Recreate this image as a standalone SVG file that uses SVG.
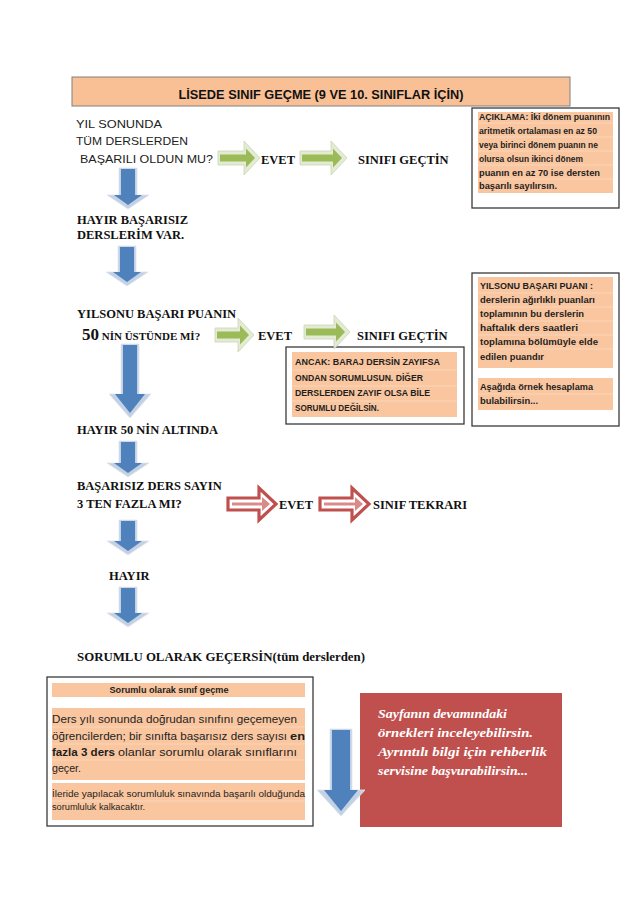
<svg xmlns="http://www.w3.org/2000/svg" width="640" height="905" viewBox="0 0 640 905">
<style>
.bg{fill:#ffffff}
.peach{fill:#F9C6A0}
.frame{fill:#ffffff;stroke:#3a3a3a;stroke-width:1.3}
.sep{stroke:#fbd9c0;stroke-width:0.8}
.q{font-family:"Liberation Serif","Times New Roman",serif;font-weight:bold;font-size:12.5px;fill:#111}
.hw{font-family:"Liberation Sans",Arial,sans-serif;font-size:10.5px;fill:#222}
.b9{font-family:"Liberation Sans",Arial,sans-serif;font-weight:bold;font-size:9px;fill:#1e1e1e}
.r11{font-family:"Liberation Sans",Arial,sans-serif;font-size:11.5px;fill:#1e1e1e}
.b11{font-family:"Liberation Sans",Arial,sans-serif;font-size:11.5px;font-weight:bold;fill:#1e1e1e}
.r8{font-family:"Liberation Sans",Arial,sans-serif;font-size:8.5px;fill:#1e1e1e}
.title{font-family:"Liberation Sans",Arial,sans-serif;font-weight:bold;font-size:13.5px;fill:#111}
.wi{font-family:"Liberation Serif","Times New Roman",serif;font-weight:bold;font-style:italic;font-size:13.5px;fill:#ffffff}
.bpale{fill:#c3d1e4;stroke:#dfe6ef;stroke-width:0.8}
.blue{fill:#4F81BD}
.gpale{fill:#e4ebd5;stroke:#c9d5b3;stroke-width:0.8}
.green{fill:#9BBB59}
.rout{fill:#ffffff;stroke:#C0504D;stroke-width:3.2;stroke-linejoin:miter}
.rin{fill:#d98b8a}
</style>
<rect class="bg" x="0" y="0" width="640" height="905"/>

<g id="title">
<rect x="72" y="77" width="498" height="29" fill="#F9C096" stroke="#808080" stroke-width="1"/>
<text class="title" x="321" y="99" text-anchor="middle" textLength="285" lengthAdjust="spacingAndGlyphs">LİSEDE SINIF GEÇME (9 VE 10. SINIFLAR İÇİN)</text>
</g>

<g id="q1">
<text class="hw" x="76" y="128" textLength="86" lengthAdjust="spacingAndGlyphs">YIL SONUNDA</text>
<text class="hw" x="76" y="145" textLength="112" lengthAdjust="spacingAndGlyphs">TÜM DERSLERDEN</text>
<text class="hw" x="80" y="163" textLength="133" lengthAdjust="spacingAndGlyphs">BAŞARILI OLDUN MU?</text>
</g>
<g id="evet1"><text class="q" x="261" y="164">EVET</text></g>
<g id="gectin1"><text class="q" x="358" y="164">SINIFI GEÇTİN</text></g>

<g id="aciklama">
<rect class="frame" x="472" y="108" width="147" height="100"/>
<rect class="peach" x="478" y="112" width="135" height="81"/>
<line class="sep" x1="478" y1="123" x2="613" y2="123"/>
<line class="sep" x1="478" y1="137" x2="613" y2="137"/>
<line class="sep" x1="478" y1="151" x2="613" y2="151"/>
<line class="sep" x1="478" y1="165" x2="613" y2="165"/>
<line class="sep" x1="478" y1="179" x2="613" y2="179"/>
<text class="b9" x="479" y="120" textLength="131" lengthAdjust="spacingAndGlyphs">AÇIKLAMA: İki dönem puanının</text>
<text class="b9" x="479" y="134" textLength="118" lengthAdjust="spacingAndGlyphs">aritmetik ortalaması en az 50</text>
<text class="b9" x="479" y="148" textLength="119" lengthAdjust="spacingAndGlyphs">veya birinci dönem puanın ne</text>
<text class="b9" x="479" y="162" textLength="104" lengthAdjust="spacingAndGlyphs">olursa olsun ikinci dönem</text>
<text class="b9" x="479" y="176" textLength="121" lengthAdjust="spacingAndGlyphs">puanın en az 70 ise dersten</text>
<text class="b9" x="479" y="189" textLength="78" lengthAdjust="spacingAndGlyphs">başarılı sayılırsın.</text>
</g>

<g id="hayir1">
<text class="q" x="77" y="224">HAYIR BAŞARISIZ</text>
<text class="q" x="77" y="239">DERSLERİM VAR.</text>
</g>

<g id="q2">
<text class="q" x="77" y="318">YILSONU BAŞARI PUANIN</text>
<text class="q" x="82" y="340"><tspan font-size="17">50</tspan><tspan font-size="11"> NİN ÜSTÜNDE Mİ?</tspan></text>
</g>
<g id="evet2"><text class="q" x="258" y="340">EVET</text></g>
<g id="gectin2"><text class="q" x="357" y="340">SINIFI GEÇTİN</text></g>

<g id="ancak">
<rect class="frame" x="286" y="347" width="178" height="77"/>
<rect class="peach" x="292" y="352" width="165" height="65"/>
<line class="sep" x1="292" y1="370" x2="457" y2="370"/>
<line class="sep" x1="292" y1="386" x2="457" y2="386"/>
<line class="sep" x1="292" y1="401" x2="457" y2="401"/>
<text class="b9" x="295" y="365" textLength="145" lengthAdjust="spacingAndGlyphs">ANCAK: BARAJ DERSİN  ZAYIFSA</text>
<text class="b9" x="295" y="381" textLength="128" lengthAdjust="spacingAndGlyphs">ONDAN SORUMLUSUN. DİĞER</text>
<text class="b9" x="295" y="396" textLength="135" lengthAdjust="spacingAndGlyphs">DERSLERDEN ZAYIF OLSA BİLE</text>
<text class="b9" x="295" y="411" textLength="84" lengthAdjust="spacingAndGlyphs">SORUMLU DEĞİLSİN.</text>
</g>

<g id="yilsonu">
<rect class="frame" x="472" y="273" width="147" height="153"/>
<rect class="peach" x="478" y="277" width="135" height="91"/>
<line class="sep" x1="478" y1="293" x2="613" y2="293"/>
<line class="sep" x1="478" y1="307" x2="613" y2="307"/>
<line class="sep" x1="478" y1="321" x2="613" y2="321"/>
<line class="sep" x1="478" y1="335" x2="613" y2="335"/>
<line class="sep" x1="478" y1="349" x2="613" y2="349"/>
<text class="b9" x="480" y="289" font-size="9.5" textLength="113" lengthAdjust="spacingAndGlyphs">YILSONU BAŞARI PUANI :</text>
<text class="b9" x="480" y="303" font-size="9.5" textLength="115" lengthAdjust="spacingAndGlyphs">derslerin ağırlıklı puanları</text>
<text class="b9" x="480" y="317" font-size="9.5" textLength="104" lengthAdjust="spacingAndGlyphs">toplamının bu derslerin</text>
<text class="b9" x="480" y="331" font-size="9.5" textLength="98" lengthAdjust="spacingAndGlyphs">haftalık ders saatleri</text>
<text class="b9" x="480" y="345" font-size="9.5" textLength="118" lengthAdjust="spacingAndGlyphs">toplamına bölümüyle elde</text>
<text class="b9" x="480" y="360" font-size="9.5" textLength="64" lengthAdjust="spacingAndGlyphs">edilen puandır</text>
<rect class="peach" x="478" y="378" width="135" height="32"/>
<line class="sep" x1="478" y1="394" x2="613" y2="394"/>
<text class="b9" x="480" y="390" font-size="9.5" textLength="113" lengthAdjust="spacingAndGlyphs">Aşağıda örnek hesaplama</text>
<text class="b9" x="480" y="404" font-size="9.5" textLength="58" lengthAdjust="spacingAndGlyphs">bulabilirsin...</text>
</g>

<g id="hayir2"><text class="q" x="77" y="434">HAYIR 50 NİN ALTINDA</text></g>

<g id="q3">
<text class="q" x="77" y="490">BAŞARISIZ DERS SAYIN</text>
<text class="q" x="77" y="508">3 TEN FAZLA MI?</text>
</g>
<g id="evet3"><text class="q" x="279" y="509">EVET</text></g>
<g id="tekrar"><text class="q" x="373" y="509">SINIF TEKRARI</text></g>

<g id="hayir3"><text class="q" x="109" y="580">HAYIR</text></g>

<g id="sorumlu"><text class="q" x="77" y="661" font-size="12.8" textLength="288" lengthAdjust="spacingAndGlyphs">SORUMLU OLARAK GEÇERSİN(tüm derslerden)</text></g>

<g id="sorumlu-box">
<rect class="frame" x="47" y="677" width="266" height="149"/>
<rect class="peach" x="52" y="683" width="253" height="14"/>
<text class="b9" x="169" y="693" text-anchor="middle" font-size="8.5" textLength="119" lengthAdjust="spacingAndGlyphs">Sorumlu olarak sınıf geçme</text>
<rect class="peach" x="52" y="708" width="253" height="72"/>
<line class="sep" x1="52" y1="727" x2="305" y2="727"/>
<line class="sep" x1="52" y1="744" x2="305" y2="744"/>
<line class="sep" x1="52" y1="760" x2="305" y2="760"/>
<text class="r11" x="52" y="723" textLength="245" lengthAdjust="spacingAndGlyphs">Ders yılı sonunda doğrudan sınıfını geçemeyen</text>
<text class="r11" x="52" y="740" textLength="235" lengthAdjust="spacingAndGlyphs">öğrencilerden; bir sınıfta başarısız ders sayısı</text>
<text class="b11" x="290" y="740" textLength="15" lengthAdjust="spacingAndGlyphs">en</text>
<text class="b11" x="52" y="756" textLength="63" lengthAdjust="spacingAndGlyphs">fazla 3 ders</text>
<text class="r11" x="118" y="756" textLength="179" lengthAdjust="spacingAndGlyphs">olanlar sorumlu olarak sınıflarını</text>
<text class="r11" x="52" y="772" textLength="29" lengthAdjust="spacingAndGlyphs">geçer.</text>
<rect class="peach" x="52" y="783" width="253" height="37"/>
<line class="sep" x1="52" y1="801" x2="305" y2="801"/>
<text class="r8" x="52" y="797" textLength="253" lengthAdjust="spacingAndGlyphs">İleride yapılacak sorumluluk sınavında başarılı olduğunda</text>
<text class="r8" x="52" y="810" textLength="93" lengthAdjust="spacingAndGlyphs">sorumluluk kalkacaktır.</text>
</g>

<g id="rehberlik">
<rect x="360" y="693" width="202" height="134" fill="#C0504D"/>
<text class="wi" x="378" y="718" textLength="129" lengthAdjust="spacingAndGlyphs">Sayfanın devamındaki</text>
<text class="wi" x="378" y="737" textLength="155" lengthAdjust="spacingAndGlyphs">örnekleri inceleyebilirsin.</text>
<text class="wi" x="378" y="756" textLength="169" lengthAdjust="spacingAndGlyphs">Ayrıntılı bilgi için rehberlik</text>
<text class="wi" x="378" y="775" textLength="150" lengthAdjust="spacingAndGlyphs">servisine başvurabilirsin...</text>
</g>

<g id="connectors">
<polygon class="gpale" points="218,151 244,151 244,141 260,158 244,175 244,165 218,165"/>
<polygon class="green" points="220,154.5 246,154.5 246,148.5 255,158 246,167.5 246,161.5 220,161.5"/>
<polygon class="gpale" points="300,151 331,151 331,141 347,158 331,175 331,165 300,165"/>
<polygon class="green" points="302,154.5 333,154.5 333,148.5 342,158 333,167.5 333,161.5 302,161.5"/>
<polygon class="gpale" points="215,328 238,328 238,318 254,335 238,352 238,342 215,342"/>
<polygon class="green" points="217,331.5 240,331.5 240,325.5 249,335 240,344.5 240,338.5 217,338.5"/>
<polygon class="gpale" points="304,325 334,325 334,315 350,332 334,349 334,339 304,339"/>
<polygon class="green" points="306,328.5 336,328.5 336,322.5 345,332 336,341.5 336,335.5 306,335.5"/>
<polygon class="rout" points="228,498 259,498 259,488 276,504 259,520 259,510 228,510"/>
<polygon class="rin" points="232,502.5 262,502.5 262,497 270,504 262,511 262,505.5 232,505.5"/>
<polygon class="rout" points="320,498 352,498 352,488 369,504 352,520 352,510 320,510"/>
<polygon class="rin" points="324,502.5 355,502.5 355,497 363,504 355,511 355,505.5 324,505.5"/>
<polygon class="bpale" points="119,168 137,168 137,195 149,195 128,209 107,195 119,195"/>
<polygon class="blue" points="121,169 135,169 135,195 142,195 128,205 114,195 121,195"/>
<polygon class="bpale" points="118,246 136,246 136,272 148,272 127,286 106,272 118,272"/>
<polygon class="blue" points="120,247 134,247 134,272 141,272 127,282 113,272 120,272"/>
<polygon class="bpale" points="121,344 139,344 139,394 151,394 130,418 109,394 121,394"/>
<polygon class="blue" points="123,345 137,345 137,394 145,394 130,413 115,394 123,394"/>
<polygon class="bpale" points="119,441 137,441 137,463 149,463 128,477 107,463 119,463"/>
<polygon class="blue" points="121,442 135,442 135,463 142,463 128,473 114,463 121,463"/>
<polygon class="bpale" points="119,520 137,520 137,541 149,541 128,555 107,541 119,541"/>
<polygon class="blue" points="121,521 135,521 135,541 142,541 128,551 114,541 121,541"/>
<polygon class="bpale" points="119,587 137,587 137,613 149,613 128,627 107,613 119,613"/>
<polygon class="blue" points="121,588 135,588 135,613 142,613 128,623 114,613 121,613"/>
<polygon class="bpale" points="330,729 352,729 352,790 365,790 341,816 317,790 330,790"/>
<polygon class="blue" points="332,730 350,730 350,790 358,790 341,811 324,790 332,790"/>
</g>
</svg>
